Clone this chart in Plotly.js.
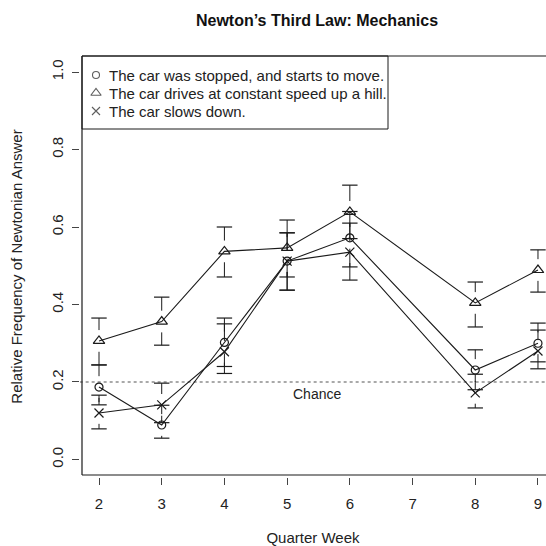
<!DOCTYPE html>
<html>
<head>
<meta charset="utf-8">
<script src="https://cdn.plot.ly/plotly-3.0.1.min.js"></script>
<style>html,body{margin:0;padding:0;background:#fff;}#chart{width:546px;height:546px;}</style>
</head>
<body>
<div id="chart"></div>
<script>
// ---- data ----
const weeks = [2, 3, 4, 5, 6, 8, 9];
const seriesNames = [
  "The car was stopped, and starts to move.",
  "The car drives at constant speed up a hill.",
  "The car slows down."
];
const stopped   = [0.187, 0.089, 0.302, 0.512, 0.572, 0.231, 0.300];
const stoppedLo = [0.141, 0.055, 0.240, 0.437, 0.497, 0.180, 0.252];
const stoppedHi = [0.244, 0.140, 0.365, 0.585, 0.640, 0.283, 0.352];
const hill      = [0.306, 0.356, 0.537, 0.546, 0.639, 0.404, 0.489];
const hillLo    = [0.244, 0.295, 0.471, 0.471, 0.570, 0.342, 0.432];
const hillHi    = [0.365, 0.419, 0.600, 0.618, 0.708, 0.458, 0.541];
const slows     = [0.120, 0.141, 0.278, 0.512, 0.535, 0.172, 0.280];
const slowsLo   = [0.079, 0.095, 0.222, 0.437, 0.463, 0.133, 0.234];
const slowsHi   = [0.166, 0.197, 0.350, 0.585, 0.610, 0.220, 0.334];
const chanceLevel = 0.2;
const chanceLabel = "Chance";
const xTicks = [2, 3, 4, 5, 6, 7, 8, 9];
const yTicks = [0.0, 0.2, 0.4, 0.6, 0.8, 1.0];

const FONT = "'Liberation Sans', Arial, Helvetica, sans-serif";
const INK = "#1a1a1a";
const GAP = 0.028; // gap around point (gplots plotCI style)

function errorTraces(y, lo, hi) {
  const sx = [], sy = [];
  const cx = [], cy = [];
  for (let i = 0; i < weeks.length; i++) {
    if (hi[i] - y[i] > GAP) { sx.push(weeks[i], weeks[i], null); sy.push(y[i] + GAP, hi[i], null); }
    if (y[i] - lo[i] > GAP) { sx.push(weeks[i], weeks[i], null); sy.push(y[i] - GAP, lo[i], null); }
    cx.push(weeks[i], weeks[i]); cy.push(hi[i], lo[i]);
  }
  return [
    {x: sx, y: sy, mode: "lines", line: {color: INK, width: 1}, showlegend: false, hoverinfo: "skip"},
    {x: cx, y: cy, mode: "markers", marker: {symbol: "line-ew", size: 11, line: {color: INK, width: 1.2}}, showlegend: false, hoverinfo: "skip"}
  ];
}

const symbols = ["circle-open", "triangle-up-open", "x-thin-open"];
const sizes = [8, 10, 9];
const ys = [stopped, hill, slows];
const los = [stoppedLo, hillLo, slowsLo];
const his = [stoppedHi, hillHi, slowsHi];

const traces = [];
// chance line
traces.push({x: [1.5, 9.5], y: [chanceLevel, chanceLevel], mode: "lines",
  line: {color: "#555", width: 1.2, dash: "dot"}, showlegend: false, hoverinfo: "skip"});
for (let s = 0; s < 3; s++) {
  traces.push(...errorTraces(ys[s], los[s], his[s]));
  traces.push({x: weeks, y: ys[s], mode: "lines+markers", name: seriesNames[s], showlegend: false,
    line: {color: INK, width: 1.1},
    marker: {symbol: symbols[s], size: sizes[s], color: INK, line: {color: INK, width: 1.2}}});
}

// ---- R-style legend drawn on its own small axis pair (box units in px) ----
const W = 546, H = 546;
const mL = 80, mR = 0, mT = 56, mB = 69;
const pw = W - mL - mR, ph = H - mT - mB;
const bx = 2 / pw, by = 2 / ph; // box offset (ticks separated from box like R)
const legW = 306, legH = 73, legRowY = [19, 37, 55], legSymX = 14, legTextX = 25;

traces.push({x: legRowY.map(() => legSymX), y: legRowY, xaxis: "x2", yaxis: "y2", mode: "markers",
  showlegend: false, hoverinfo: "skip",
  marker: {symbol: symbols, size: sizes.map(v => v - 1), color: INK, line: {color: INK, width: 1.1}}});

const legendAnn = seriesNames.map((t, i) => ({
  x: legTextX, y: legRowY[i], xref: "x2", yref: "y2", text: t, showarrow: false,
  xanchor: "left", yanchor: "middle", font: {family: FONT, size: 15, color: "#222"}
}));

const layout = {
  width: W, height: H,
  margin: {l: mL, r: mR, t: mT, b: mB, pad: 0},
  paper_bgcolor: "#fff", plot_bgcolor: "rgba(0,0,0,0)",
  font: {family: FONT, color: "#222", size: 15},
  showlegend: false,
  title: {text: "Newton\u2019s Third Law: Mechanics", font: {family: FONT, size: 16, color: "#111", weight: "bold"},
    x: (317 - mL) / pw, xref: "paper", xanchor: "center", y: 1 - 20 / H, yanchor: "middle"},
  xaxis: {
    range: [1.697, 9.128], tickvals: xTicks, ticktext: xTicks.map(String),
    showgrid: false, zeroline: false, showline: false,
    ticks: "outside", ticklen: 7, tickwidth: 1, tickcolor: "#444", ticklabelstandoff: 6,
    tickfont: {family: FONT, size: 15, color: "#222"},
    title: {text: "Quarter Week", font: {family: FONT, size: 15, color: "#222"}, standoff: 22},
    fixedrange: true
  },
  yaxis: {
    range: [-0.0452, 1.0413], tickvals: yTicks, ticktext: yTicks.map(v => v.toFixed(1)),
    showgrid: false, zeroline: false, showline: false,
    ticks: "outside", ticklen: 7, tickwidth: 1, tickcolor: "#444", tickangle: -90, ticklabelstandoff: 3,
    tickfont: {family: FONT, size: 15, color: "#222"},
    title: {text: "Relative Frequency of Newtonian Answer", font: {family: FONT, size: 15, color: "#222"}, standoff: 22},
    fixedrange: true
  },
  xaxis2: {domain: [bx, bx + legW / pw], range: [0, legW], anchor: "y2", visible: false, fixedrange: true},
  yaxis2: {domain: [1 - legH / ph, 1], range: [legH, 0], anchor: "x2", visible: false, fixedrange: true},
  shapes: [
    {type: "rect", xref: "paper", yref: "paper", x0: bx, x1: bx + legW / pw, y0: 1 - legH / ph, y1: 1,
      line: {color: INK, width: 1}, fillcolor: "rgba(0,0,0,0)"},
    {type: "line", xref: "paper", yref: "paper", x0: bx, x1: bx, y0: by, y1: 1, line: {color: INK, width: 1.2}},
    {type: "line", xref: "paper", yref: "paper", x0: bx, x1: 1.01, y0: by, y1: by, line: {color: INK, width: 1.2}},
    {type: "line", xref: "paper", yref: "paper", x0: bx, x1: 1.01, y0: 1, y1: 1, line: {color: INK, width: 1.2}}
  ],
  annotations: [
    {x: 5.48, y: 0.17, xref: "x", yref: "y", text: chanceLabel, showarrow: false,
      font: {family: FONT, size: 14, color: "#222"}, xanchor: "center", yanchor: "middle"}
  ].concat(legendAnn)
};

Plotly.newPlot("chart", traces, layout, {displayModeBar: false, staticPlot: true});
</script>
</body>
</html>
